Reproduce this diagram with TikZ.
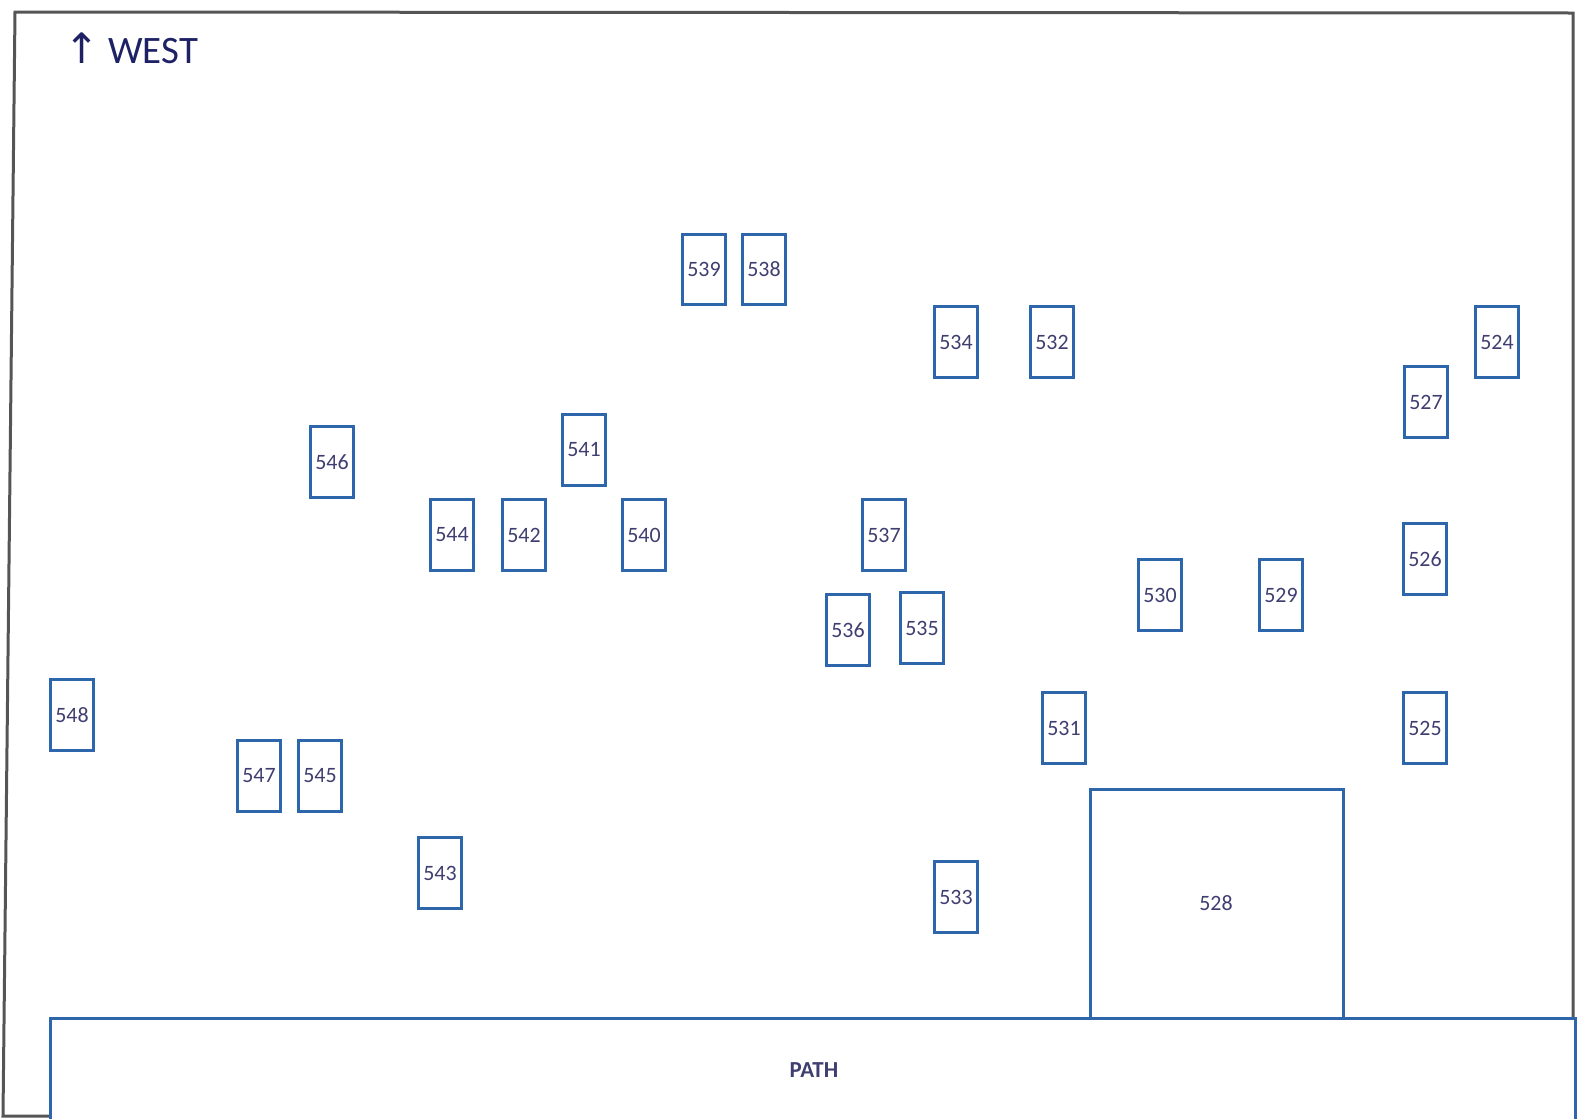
\documentclass[tikz,border=0pt]{standalone}
\usepackage{fontspec}
\setmainfont{Carlito}
\newfontfamily\arrowfont{DejaVu Sans}
\definecolor{boxblue}{RGB}{46,102,172}
\definecolor{numtext}{RGB}{62,62,112}
\definecolor{navy}{RGB}{30,34,100}
\definecolor{framegray}{RGB}{85,85,85}
\begin{document}
\begin{tikzpicture}[x=1bp,y=-1bp,
  plot/.style={draw=boxblue,line width=3bp,minimum width=43bp,minimum height=70.5bp,inner sep=0pt,
    text=numtext,font=\fontsize{22}{22}\selectfont},
  lbl/.style={text=numtext,font=\fontsize{22}{22}\selectfont},
  edge/.style={draw=boxblue,line width=3bp},
  frameline/.style={draw=framegray,line width=3bp}]
\useasboundingbox (0,0) rectangle (1577,1118);
% outer frame
\coordinate (ftl) at (15,12);
\coordinate (ftr) at (1573,13);
\coordinate (fbr) at (1573,1018);
\coordinate (fbl) at (3,1116);
\coordinate (fbe) at (50,1116);
\draw[frameline] (fbr) -- (ftr) -- (ftl) -- (fbl) -- (fbe);
% title
\node[anchor=west,text=navy,inner sep=0pt] (west) at (64,48)
  {{\arrowfont\fontsize{42}{42}\selectfont ↑}\hspace{9bp}{\fontsize{39}{39}\selectfont WEST}};
% path
\coordinate (pathtl) at (50,1018);
\coordinate (pathbr) at (1575,1124);
\draw[edge] (pathtl) rectangle (pathbr);
\node[text=numtext,font=\bfseries\fontsize{23}{23}\selectfont] (path) at (814,1070) {PATH};
% 528
\coordinate (b528tl) at (1090,789);
\coordinate (b528br) at (1343,1018);
\draw[edge] (b528tl) rectangle (b528br);
\node[lbl] (n528) at (1216,903) {528};
% plots
\node[plot] (p539) at (704,269.5) {539};
\node[plot] (p538) at (764,269.5) {538};
\node[plot] (p534) at (956,342) {534};
\node[plot] (p532) at (1052,342) {532};
\node[plot] (p524) at (1497,342) {524};
\node[plot] (p527) at (1426,402) {527};
\node[plot] (p546) at (332,462) {546};
\node[plot] (p541) at (584,450) {541};
\node[plot] (p544) at (452,535) {544};
\node[plot] (p542) at (524,535) {542};
\node[plot] (p540) at (644,535) {540};
\node[plot] (p537) at (884,535) {537};
\node[plot] (p526) at (1425,559) {526};
\node[plot] (p530) at (1160,595) {530};
\node[plot] (p529) at (1281,595) {529};
\node[plot] (p536) at (848,630) {536};
\node[plot] (p535) at (922,628) {535};
\node[plot] (p548) at (72,715) {548};
\node[plot] (p531) at (1064,728) {531};
\node[plot] (p525) at (1425,728) {525};
\node[plot] (p547) at (259,776) {547};
\node[plot] (p545) at (320,776) {545};
\node[plot] (p543) at (440,873) {543};
\node[plot] (p533) at (956,897) {533};
\end{tikzpicture}
\end{document}
